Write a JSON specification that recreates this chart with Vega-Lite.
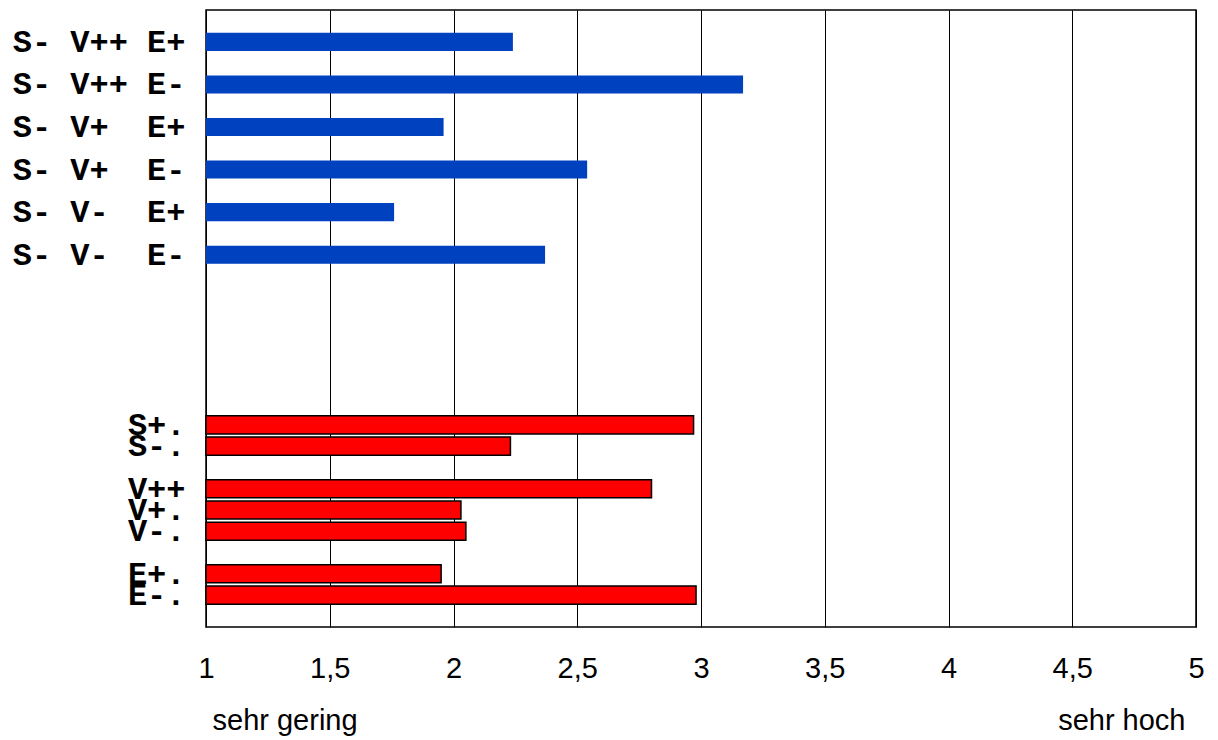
{
  "$schema": "https://vega.github.io/schema/vega-lite/v6.json",
  "width": 990,
  "height": 617,
  "autosize": "none",
  "padding": {"left": 206, "top": 10, "right": 22, "bottom": 113},
  "background": "white",
  "config": {
    "view": {"stroke": "black", "strokeWidth": 1.5},
    "axis": {"labelColor": "black", "titleColor": "black"}
  },
  "data": {
    "values": [
      {"label": "S- V++ E+", "value": 2.24, "group": "Kombination"},
      {"label": "S- V++ E-", "value": 3.17, "group": "Kombination"},
      {"label": "S- V+  E+", "value": 1.96, "group": "Kombination"},
      {"label": "S- V+  E-", "value": 2.54, "group": "Kombination"},
      {"label": "S- V-  E+", "value": 1.76, "group": "Kombination"},
      {"label": "S- V-  E-", "value": 2.37, "group": "Kombination"},
      {"label": "S+.", "value": 2.97, "group": "Einzelfaktor"},
      {"label": "S-.", "value": 2.23, "group": "Einzelfaktor"},
      {"label": "V++", "value": 2.80, "group": "Einzelfaktor"},
      {"label": "V+.", "value": 2.03, "group": "Einzelfaktor"},
      {"label": "V-.", "value": 2.05, "group": "Einzelfaktor"},
      {"label": "E+.", "value": 1.95, "group": "Einzelfaktor"},
      {"label": "E-.", "value": 2.98, "group": "Einzelfaktor"}
    ]
  },
  "encoding": {
    "y": {
      "field": "label",
      "type": "nominal",
      "sort": null,
      "scale": {
        "domain": ["_0", "S- V++ E+", "_2", "S- V++ E-", "_4", "S- V+  E+", "_6", "S- V+  E-", "_8", "S- V-  E+", "_10", "S- V-  E-", "_12", "_13", "_14", "_15", "_16", "_17", "_18", "S+.", "S-.", "_21", "V++", "V+.", "V-.", "_25", "E+.", "E-.", "_28"],
        "paddingInner": 0.15,
        "paddingOuter": 0.075
      },
      "axis": {
        "title": null,
        "domain": false,
        "ticks": false,
        "grid": false,
        "labelFont": "'Courier New', 'Liberation Mono', 'DejaVu Sans Mono', monospace",
        "labelFontWeight": "bold",
        "labelFontSize": 32,
        "labelPadding": 21,
        "labelLimit": 600,
        "labelColor": "black",
        "labelExpr": "indexof(datum.label, '_') == 0 ? '' : replace(replace(datum.label, '  ', '\u00a0\u00a0'), ' ', '\u00a0')"
      }
    }
  },
  "layer": [
    {
      "transform": [{"filter": "datum.group == 'Kombination'"}],
      "mark": {"type": "bar", "fill": "#0041bf"},
      "encoding": {
        "x": {
          "field": "value",
          "type": "quantitative",
          "scale": {"domain": [1, 5], "zero": false, "nice": false},
          "axis": {
            "orient": "bottom",
            "values": [1, 1.5, 2, 2.5, 3, 3.5, 4, 4.5, 5],
            "domain": false,
            "ticks": false,
            "grid": true,
            "gridColor": "black",
            "gridOpacity": 1,
            "gridWidth": 1,
            "labelFont": "Liberation Sans",
            "labelFontSize": 29,
            "labelColor": "black",
            "labelPadding": 27,
            "labelFlush": false,
            "labelOverlap": false,
            "labelExpr": "replace(format(datum.value, '~g'), '.', ',')",
            "title": "sehr gering",
            "titleFont": "Liberation Sans",
            "titleFontSize": 29,
            "titleFontWeight": "normal",
            "titleColor": "black",
            "titleX": 6,
            "titleY": 102,
            "titleAlign": "left",
            "titleBaseline": "alphabetic"
          }
        },
        "x2": {"datum": 1}
      }
    },
    {
      "transform": [{"filter": "datum.group == 'Einzelfaktor'"}],
      "mark": {"type": "bar", "fill": "#ff0000", "stroke": "black", "strokeWidth": 1.5},
      "encoding": {
        "x": {
          "field": "value",
          "type": "quantitative",
          "axis": {
            "orient": "bottom",
            "domain": false,
            "ticks": false,
            "grid": false,
            "labels": false,
            "title": "sehr hoch",
            "titleFont": "Liberation Sans",
            "titleFontSize": 29,
            "titleFontWeight": "normal",
            "titleColor": "black",
            "titleX": 979,
            "titleY": 102,
            "titleAlign": "right",
            "titleBaseline": "alphabetic"
          }
        },
        "x2": {"datum": 1}
      }
    }
  ],
  "resolve": {"axis": {"x": "independent"}}
}
